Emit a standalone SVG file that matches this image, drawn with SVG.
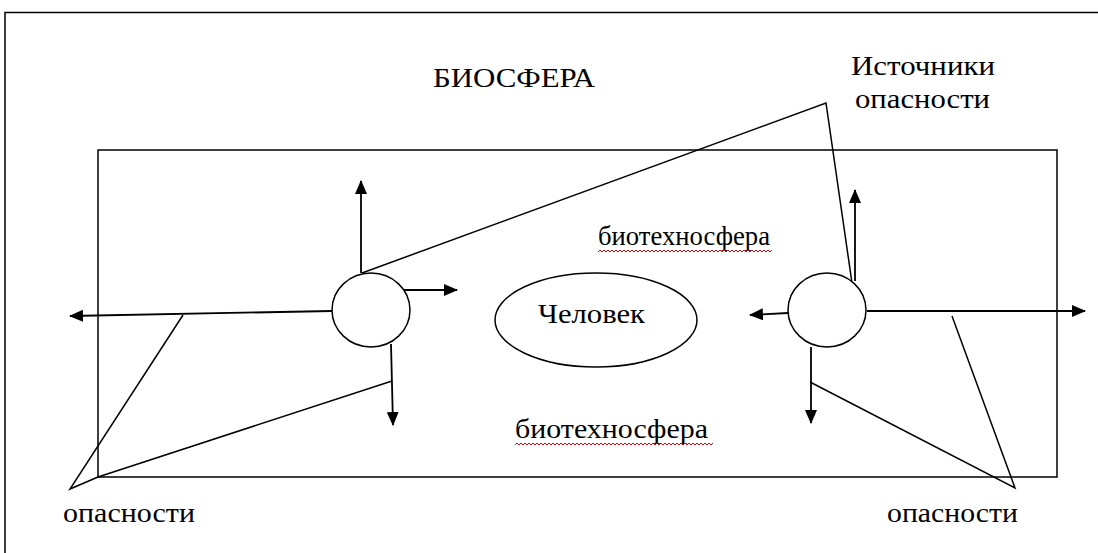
<svg xmlns="http://www.w3.org/2000/svg" width="1098" height="553" viewBox="0 0 1098 553">
<style>
.ln{stroke:#000;stroke-width:1.5;fill:none}
.ar{stroke:#000;stroke-width:1.8;fill:none;marker-end:url(#ah)}
.sh{stroke:#000;stroke-width:1.5;fill:#fff}
.t{font-family:"Liberation Serif","Times New Roman",serif;font-size:28px;fill:#000}
.wv{stroke:#e00;stroke-width:1;fill:none}
</style>
<defs>
<marker id="ah" markerWidth="14" markerHeight="12" refX="13" refY="6" orient="auto" markerUnits="userSpaceOnUse">
<path d="M0,0 L14,6 L0,12 Z" fill="#000"/>
</marker>
</defs>
<rect width="1098" height="553" fill="#fff"/>
<g id="biosphere">
<path class="ln" d="M5,560 V12.5 H1100" stroke-width="2"/>
<text class="t" x="433" y="87" textLength="162" lengthAdjust="spacingAndGlyphs">БИОСФЕРА</text>
</g>
<g id="biotechnosphere">
<rect x="98" y="150" width="959" height="327" class="ln" stroke-width="2"/>
<text class="t" x="598" y="245" textLength="172" lengthAdjust="spacingAndGlyphs">биотехносфера</text>
<path class="wv" d="M598,252 l2,-2 l2,2 l2,-2 l2,2 l2,-2 l2,2 l2,-2 l2,2 l2,-2 l2,2 l2,-2 l2,2 l2,-2 l2,2 l2,-2 l2,2 l2,-2 l2,2 l2,-2 l2,2 l2,-2 l2,2 l2,-2 l2,2 l2,-2 l2,2 l2,-2 l2,2 l2,-2 l2,2 l2,-2 l2,2 l2,-2 l2,2 l2,-2 l2,2 l2,-2 l2,2 l2,-2 l2,2 l2,-2 l2,2 l2,-2 l2,2 l2,-2 l2,2 l2,-2 l2,2 l2,-2 l2,2 l2,-2 l2,2 l2,-2 l2,2 l2,-2 l2,2 l2,-2 l2,2 l2,-2 l2,2 l2,-2 l2,2 l2,-2 l2,2 l2,-2 l2,2 l2,-2 l2,2 l2,-2 l2,2 l2,-2 l2,2 l2,-2 l2,2 l2,-2 l2,2 l2,-2 l2,2 l2,-2 l2,2 l2,-2 l2,2 l2,-2 l2,2 l2,-2 l2,2 l2,-2"/>
<text class="t" x="515" y="438" textLength="193" lengthAdjust="spacingAndGlyphs">биотехносфера</text>
<path class="wv" d="M515,445 l2,-2 l2,2 l2,-2 l2,2 l2,-2 l2,2 l2,-2 l2,2 l2,-2 l2,2 l2,-2 l2,2 l2,-2 l2,2 l2,-2 l2,2 l2,-2 l2,2 l2,-2 l2,2 l2,-2 l2,2 l2,-2 l2,2 l2,-2 l2,2 l2,-2 l2,2 l2,-2 l2,2 l2,-2 l2,2 l2,-2 l2,2 l2,-2 l2,2 l2,-2 l2,2 l2,-2 l2,2 l2,-2 l2,2 l2,-2 l2,2 l2,-2 l2,2 l2,-2 l2,2 l2,-2 l2,2 l2,-2 l2,2 l2,-2 l2,2 l2,-2 l2,2 l2,-2 l2,2 l2,-2 l2,2 l2,-2 l2,2 l2,-2 l2,2 l2,-2 l2,2 l2,-2 l2,2 l2,-2 l2,2 l2,-2 l2,2 l2,-2 l2,2 l2,-2 l2,2 l2,-2 l2,2 l2,-2 l2,2 l2,-2 l2,2 l2,-2 l2,2 l2,-2 l2,2 l2,-2 l2,2 l2,-2 l2,2 l2,-2 l2,2 l2,-2 l2,2 l2,-2 l2,2 l2,-2 l2,2 l2,-2"/>
</g>
<g id="connectors">
<path class="ln" d="M362,273 L826,103 L852,283"/>
<path class="ln" d="M392,381 L98,477 L70,489 L183,315"/>
<path class="ln" d="M810,382 L1015,488 L952,316"/>
<line class="ar" x1="361" y1="273" x2="361" y2="181"/>
<line class="ar" x1="403" y1="290" x2="457" y2="290"/>
<line class="ar" x1="391" y1="344" x2="393" y2="425"/>
<line class="ar" x1="332" y1="311" x2="70" y2="316"/>
<line class="ar" x1="855" y1="281" x2="855" y2="190"/>
<line class="ar" x1="788" y1="313" x2="750" y2="315"/>
<line class="ar" x1="867" y1="311" x2="1085" y2="311"/>
<line class="ar" x1="811" y1="347" x2="811" y2="423"/>
</g>
<g id="source-left"><ellipse class="sh" cx="371" cy="310" rx="39" ry="37"/></g>
<g id="source-right"><ellipse class="sh" cx="827" cy="310" rx="39" ry="37"/></g>
<g id="human">
<ellipse class="sh" cx="596" cy="320" rx="101" ry="47"/>
<text class="t" x="538" y="323" textLength="107" lengthAdjust="spacingAndGlyphs">Человек</text>
</g>
<g id="sources-label">
<text class="t" x="851" y="75" textLength="144" lengthAdjust="spacingAndGlyphs">Источники</text>
<text class="t" x="855" y="108" textLength="135" lengthAdjust="spacingAndGlyphs">опасности</text>
</g>
<g id="dangers-left"><text class="t" x="63" y="522" textLength="132" lengthAdjust="spacingAndGlyphs">опасности</text></g>
<g id="dangers-right"><text class="t" x="887" y="522" textLength="131" lengthAdjust="spacingAndGlyphs">опасности</text></g>
</svg>
